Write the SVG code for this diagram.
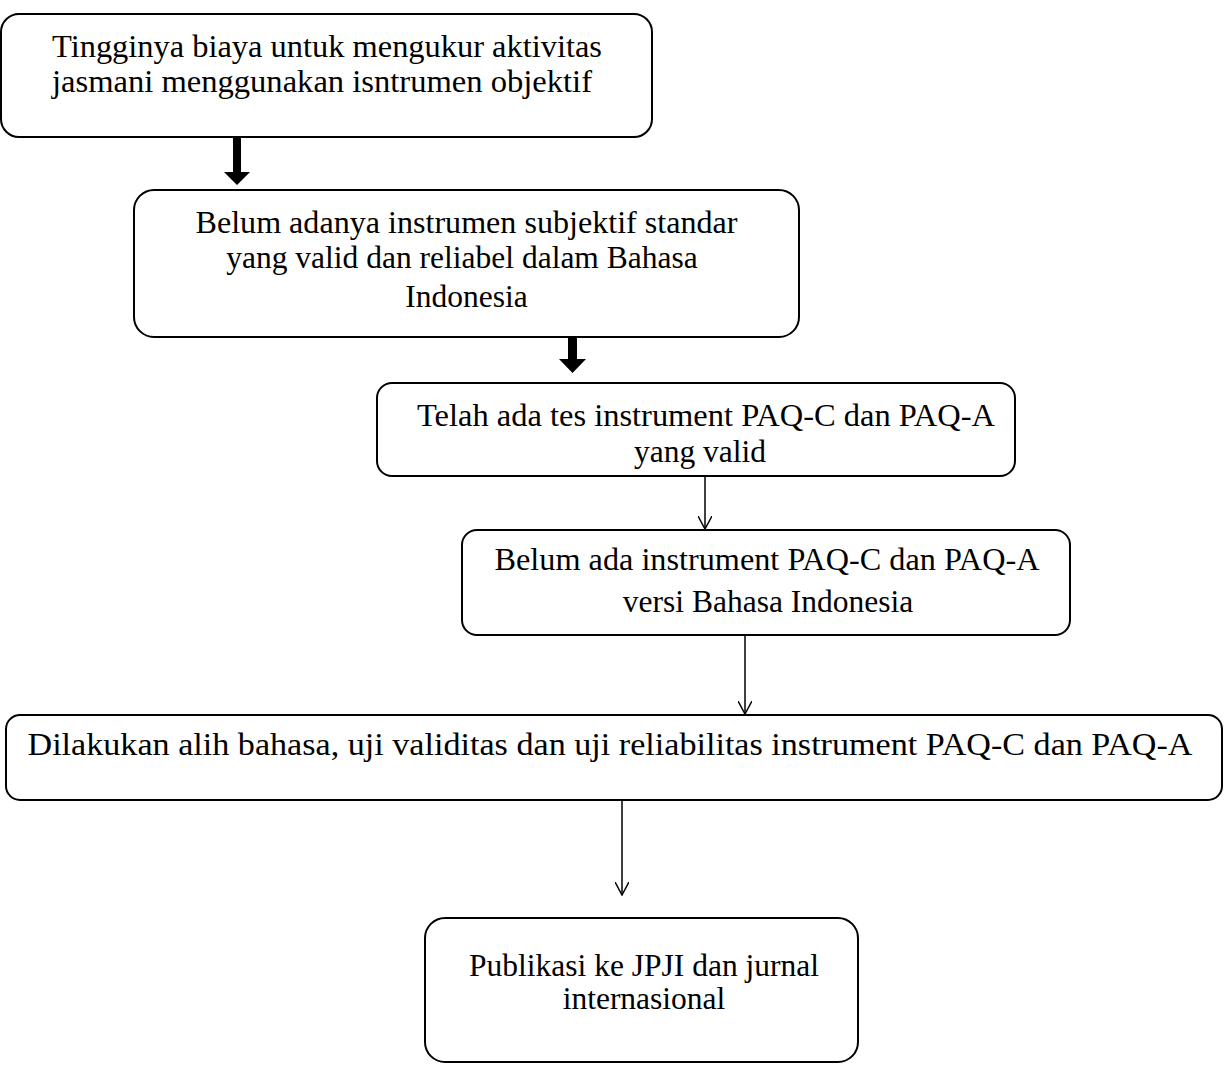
<svg xmlns="http://www.w3.org/2000/svg" width="1225" height="1066" viewBox="0 0 1225 1066">
<style>
.box{fill:#fff;stroke:#000;stroke-width:2}
.t{font-family:"Liberation Serif","Times New Roman",serif;font-size:31.5px;fill:#000}
.c{text-anchor:middle}
.thick{fill:#000}
.thin{stroke:#000;stroke-width:1.5;fill:none}
</style>
<defs>
<marker id="open" markerWidth="14" markerHeight="14" refX="7" refY="13" orient="0" markerUnits="userSpaceOnUse" viewBox="0 0 14 14">
<path d="M0,0 L7,13 L14,0" fill="none" stroke="#000" stroke-width="1.5"/>
</marker>
</defs>
<rect width="1225" height="1066" fill="#fff"/>
<g id="connectors">
<path class="thick" d="M233,137 H241 V172 H250 L237,185 L224,172 H233 Z"/>
<path class="thick" d="M568,322 H577 V359 H586 L572.5,373 L559,359 H568 Z"/>
<line class="thin" x1="705" y1="476" x2="705" y2="529" marker-end="url(#open)"/>
<line class="thin" x1="745" y1="635" x2="745" y2="714" marker-end="url(#open)"/>
<line class="thin" x1="622" y1="800" x2="622" y2="895" marker-end="url(#open)"/>
</g>
<g id="node1">
<rect class="box" x="1" y="14" width="651" height="123" rx="18"/>
<text class="t" x="52" y="57" textLength="550" lengthAdjust="spacingAndGlyphs">Tingginya biaya untuk mengukur aktivitas</text>
<text class="t" x="52" y="92" textLength="540" lengthAdjust="spacingAndGlyphs">jasmani menggunakan isntrumen objektif</text>
</g>
<g id="node2">
<rect class="box" x="134" y="190" width="665" height="147" rx="20"/>
<text class="t c" x="466.5" y="233" textLength="542" lengthAdjust="spacingAndGlyphs">Belum adanya instrumen subjektif standar</text>
<text class="t c" x="462" y="268">yang valid dan reliabel dalam Bahasa</text>
<text class="t c" x="466.5" y="307">Indonesia</text>
</g>
<g id="node3">
<rect class="box" x="377" y="383" width="638" height="93" rx="15"/>
<text class="t c" x="706" y="426" textLength="578" lengthAdjust="spacingAndGlyphs">Telah ada tes instrument PAQ-C dan PAQ-A</text>
<text class="t c" x="700" y="462">yang valid</text>
</g>
<g id="node4">
<rect class="box" x="462" y="530" width="608" height="105" rx="15"/>
<text class="t c" x="767" y="570" textLength="545" lengthAdjust="spacingAndGlyphs">Belum ada instrument PAQ-C dan PAQ-A</text>
<text class="t c" x="768" y="612">versi Bahasa Indonesia</text>
</g>
<g id="node5">
<rect class="box" x="6" y="715" width="1216" height="85" rx="14"/>
<text class="t c" x="610" y="755" textLength="1165" lengthAdjust="spacingAndGlyphs">Dilakukan alih bahasa, uji validitas dan uji reliabilitas instrument PAQ-C dan PAQ-A</text>
</g>
<g id="node6">
<rect class="box" x="425" y="918" width="433" height="144" rx="20"/>
<text class="t c" x="644" y="976">Publikasi ke JPJI dan jurnal</text>
<text class="t c" x="644" y="1009">internasional</text>
</g>
</svg>
